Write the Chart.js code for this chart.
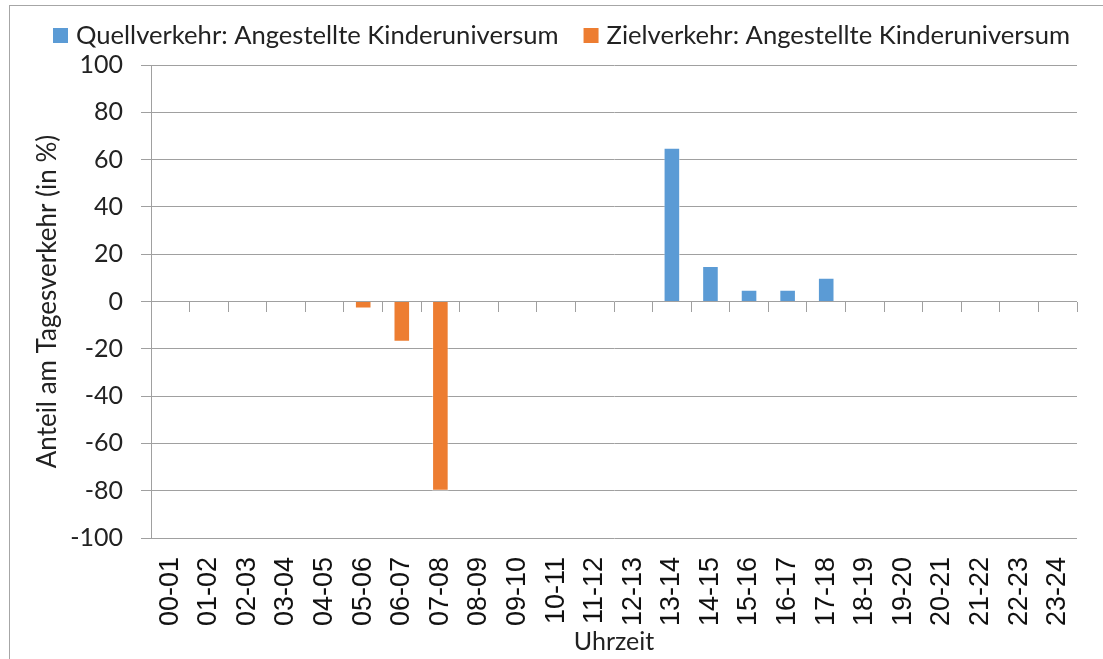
<!DOCTYPE html>
<html>
<head>
<meta charset="utf-8">
<script src="https://cdn.jsdelivr.net/npm/chart.js@4.4.0/dist/chart.umd.min.js"></script>
<style>
  html, body { margin: 0; padding: 0; background: #fff; overflow: hidden; }
  #wrap { position: relative; width: 1103px; height: 659px; }
  #frame { position: absolute; left: 9px; top: 5px; width: 1110px; height: 670px; border: 1px solid #a6a6a6; box-sizing: border-box; }
  canvas { position: absolute; left: 0; top: 0; }
</style>
</head>
<body>
<div id="wrap">
  <div id="frame"></div>
  <canvas id="myChart" width="1103" height="659"></canvas>
</div>
<script>
// Stundenintervalle
var hours = ['00-01', '01-02', '02-03', '03-04', '04-05', '05-06', '06-07', '07-08',
             '08-09', '09-10', '10-11', '11-12', '12-13', '13-14', '14-15', '15-16',
             '16-17', '17-18', '18-19', '19-20', '20-21', '21-22', '22-23', '23-24'];

// Quellverkehr (positiv)
var quellverkehr = [null, null, null, null, null, null, null, null,
                    null, null, null, null, null, 65, 15, 5,
                    5, 10, null, null, null, null, null, null];

// Zielverkehr (negativ)
var zielverkehr = [null, null, null, null, null, -3, -17, -80,
                   null, null, null, null, null, null, null, null,
                   null, null, null, null, null, null, null, null];

var yTicks = [-100, -80, -60, -40, -20, 0, 20, 40, 60, 80, 100];

var labelFont = 'Lato, "Open Sans", sans-serif';
var gridColor = '#a0a0a0';

// Legende oben, selbst gezeichnet
var legendPlugin = {
    id: 'topLegend',
    afterDraw: function(chart) {
        var c = chart.ctx;
        c.save();
        c.font = '25.6px ' + labelFont;
        c.textBaseline = 'middle';
        var x = 53;
        chart.data.datasets.forEach(function(ds) {
            c.fillStyle = ds.backgroundColor;
            c.fillRect(x, 28, 15, 15);
            c.fillStyle = '#222';
            c.fillText(ds.label, x + 23, 36);
            x += 23 + c.measureText(ds.label).width + 25;
        });
        c.restore();
    }
};

var ctx = document.getElementById('myChart').getContext('2d');
var chart = new Chart(ctx, {
    type: 'bar',
    data: {
        labels: hours,
        datasets: [
            {
                label: 'Quellverkehr: Angestellte Kinderuniversum',
                data: quellverkehr,
                backgroundColor: '#5b9bd5',
                borderColor: 'rgba(255,255,255,0.45)',
                borderWidth: 1,
                xAxisID: 'x',
                yAxisID: 'y'
            },
            {
                label: 'Zielverkehr: Angestellte Kinderuniversum',
                data: zielverkehr,
                backgroundColor: '#ed7d31',
                borderColor: 'rgba(255,255,255,0.45)',
                borderWidth: 1,
                xAxisID: 'x',
                yAxisID: 'y'
            }
        ]
    },
    options: {
        responsive: false,
        animation: false,
        events: [],
        categoryPercentage: 0.43,
        barPercentage: 1,
        layout: { padding: { top: 65, right: 26, left: 0, bottom: 0 } },
        plugins: {
            legend: { display: false },
            tooltip: { enabled: false }
        },
        scales: {
            x: {
                stacked: true,
                position: 'bottom',
                grid: { display: false, drawTicks: false },
                border: { display: false },
                ticks: {
                    autoSkip: false,
                    minRotation: 90,
                    maxRotation: 90,
                    padding: 19,
                    color: '#111',
                    font: { family: '"Liberation Sans", Arial, sans-serif', size: 27 }
                },
                title: {
                    display: true,
                    text: 'Uhrzeit',
                    color: '#222',
                    padding: { top: 0, bottom: 2 },
                    font: { family: labelFont, size: 25 }
                },
                afterFit: function(scale) {
                    scale.height = 121;
                    scale.paddingLeft = 0;
                    scale.paddingRight = 0;
                }
            },
            // Achse bei 0 mit den Teilstrichen zwischen den Kategorien
            x2: {
                type: 'category',
                labels: hours,
                position: { y: 0 },
                grid: {
                    offset: true,
                    drawOnChartArea: false,
                    drawTicks: true,
                    tickLength: 10,
                    color: gridColor
                },
                border: { display: false },
                ticks: { display: false }
            },
            y: {
                stacked: true,
                min: -100,
                max: 100,
                afterBuildTicks: function(scale) {
                    scale.ticks = yTicks.map(function(v) { return { value: v }; });
                },
                grid: {
                    color: gridColor,
                    tickLength: 10
                },
                border: { display: true, color: gridColor },
                ticks: {
                    padding: 18,
                    color: '#222',
                    font: { family: labelFont, size: 25 }
                },
                title: {
                    display: true,
                    text: 'Anteil am Tagesverkehr (in %)',
                    color: '#222',
                    padding: { top: 32, bottom: 0 },
                    font: { family: labelFont, size: 26 }
                },
                afterFit: function(scale) { scale.width = 151; }
            }
        }
    },
    plugins: [legendPlugin]
});
</script>
</body>
</html>
